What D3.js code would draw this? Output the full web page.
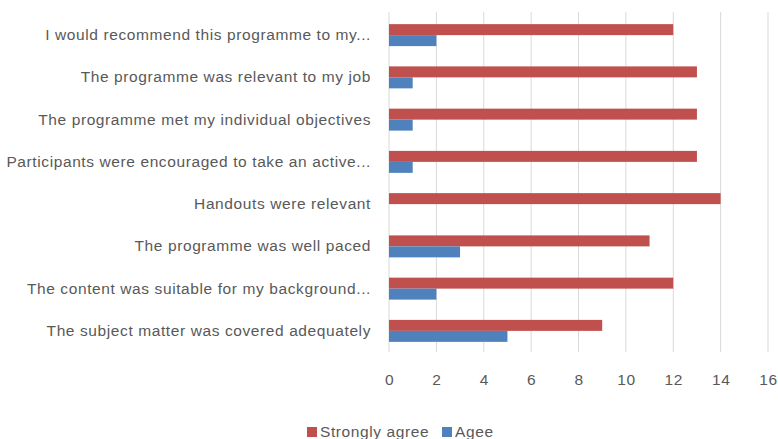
<!DOCTYPE html>
<html>
<head>
<meta charset="utf-8">
<script src="https://cdn.jsdelivr.net/npm/d3@7"></script>
<style>
  body { margin: 0; background: #fff; }
  text { font-family: "Liberation Sans", sans-serif; fill: #595959; letter-spacing: 0.6px; }
</style>
</head>
<body>
<svg id="chart"></svg>
<script>
// categories top to bottom
const categories = [
  "I would recommend this programme to my...",
  "The programme was relevant to my job",
  "The programme met my individual objectives",
  "Participants were encouraged to take an active...",
  "Handouts were relevant",
  "The programme was well paced",
  "The content was suitable for my background...",
  "The subject matter was covered adequately"
];
const seriesNames = ["Strongly agree", "Agee"];
const stronglyAgree = [12, 13, 13, 13, 14, 11, 12, 9];
const agee = [2, 1, 1, 1, 0, 3, 2, 5];
const xTicks = [0, 2, 4, 6, 8, 10, 12, 14, 16];
const colors = ["#c0504d", "#4f81bd"];

const width = 778, height = 439;
const margin = { top: 14, right: 10, bottom: 87, left: 389 };

const svg = d3.select("#chart").attr("width", width).attr("height", height);

const x = d3.scaleLinear().domain([0, 16]).range([margin.left, 768]);
const y = d3.scaleBand().domain(categories)
  .range([margin.top, height - margin.bottom])
  .paddingInner(0.48).paddingOuter(0.24);
const y1 = d3.scaleBand().domain(seriesNames).range([0, y.bandwidth()]);

// gridlines
svg.append("g")
  .selectAll("line")
  .data(xTicks)
  .join("line")
  .attr("x1", d => x(d)).attr("x2", d => x(d))
  .attr("y1", margin.top - 2).attr("y2", height - margin.bottom)
  .attr("stroke", "#d9d9d9").attr("stroke-width", 1);

// bars
const rows = categories.map((c, i) => ({ cat: c, values: [stronglyAgree[i], agee[i]] }));
svg.append("g")
  .selectAll("g")
  .data(rows)
  .join("g")
  .attr("transform", d => `translate(0,${y(d.cat)})`)
  .selectAll("rect")
  .data(d => d.values.map((v, j) => ({ name: seriesNames[j], v, j })))
  .join("rect")
  .attr("x", x(0))
  .attr("y", d => y1(d.name))
  .attr("width", d => x(d.v) - x(0))
  .attr("height", y1.bandwidth())
  .attr("fill", d => colors[d.j]);

// category labels
const yAxis = svg.append("g")
  .attr("transform", `translate(${margin.left},0)`)
  .call(d3.axisLeft(y).tickSize(0).tickPadding(18));
yAxis.select(".domain").remove();
yAxis.selectAll("text").style("font-size", "15.5px").attr("fill", "#595959");

// x axis labels
const xAxis = svg.append("g")
  .attr("transform", `translate(0,${height - margin.bottom})`)
  .call(d3.axisBottom(x).tickValues(xTicks).tickSize(0).tickPadding(22));
xAxis.select(".domain").remove();
xAxis.selectAll("text").style("font-size", "15.5px").attr("fill", "#595959");

// legend
const legend = svg.append("g").attr("transform", "translate(307,427)");
const legendX = [0, 135];
seriesNames.forEach((name, i) => {
  const g = legend.append("g").attr("transform", `translate(${legendX[i]},0)`);
  g.append("rect").attr("width", 10).attr("height", 10).attr("fill", colors[i]);
  g.append("text").attr("x", 13).attr("y", 10).style("font-size", "15.5px").text(name);
});
</script>
</body>
</html>
